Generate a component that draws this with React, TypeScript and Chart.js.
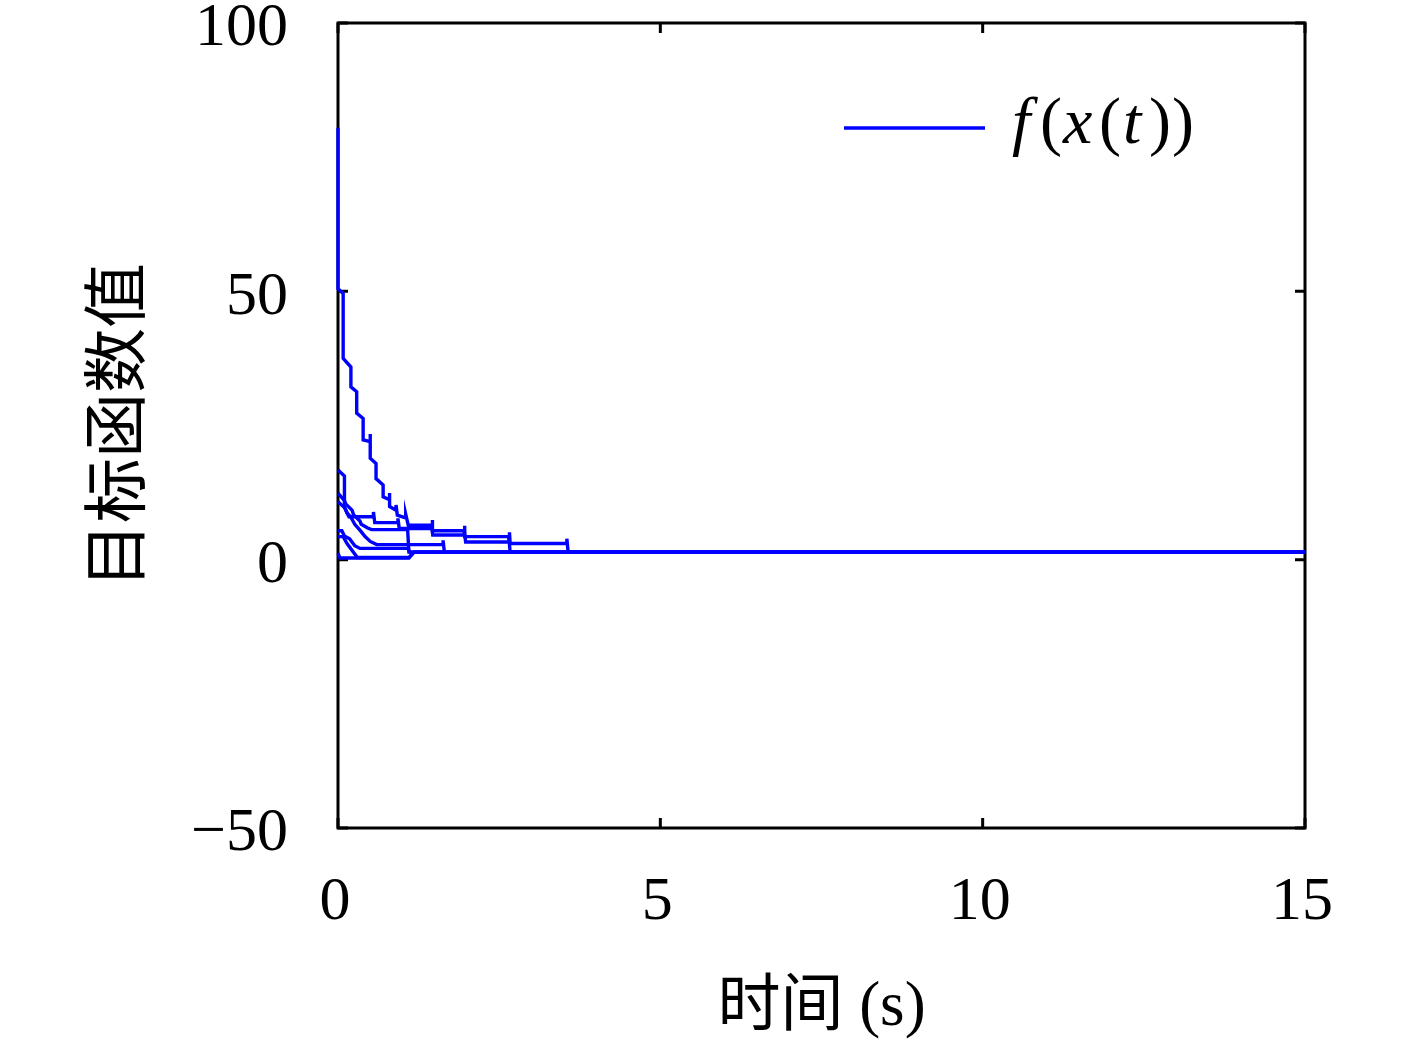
import React, { useEffect, useRef } from "react";
import { Chart, registerables } from "chart.js";

Chart.register(...registerables);

// axis ranges / ticks
const xTickValues = [0, 5, 10, 15];
const yTickValues = [-50, 0, 50, 100];
const xTitle = "时间 (s)";
const yTitle = "目标函数值";
const legendLabel = "f(x(t))";

// runs of the objective value f(x(t)) vs. time (s): [t, f]
const runA: [number, number][] = [
  [0, 80.5], [0, 50.5], [0.08, 49.6], [0.08, 37.5], [0.2, 35.9], [0.2, 32.2],
  [0.29, 31.3], [0.29, 27.3], [0.39, 26.3], [0.39, 22.3], [0.5, 22.0], [0.5, 23.4],
  [0.5, 18.9], [0.59, 17.9], [0.59, 15.1], [0.7, 13.9], [0.7, 11.7], [0.8, 11.2],
  [0.8, 12.4], [0.8, 9.9], [0.9, 9.2], [0.9, 10.2], [0.92, 8.3], [1.05, 7.8],
  [1.05, 8.5], [1.09, 6.4], [1.46, 6.4], [1.46, 7.4], [1.47, 5.4], [1.96, 5.4],
  [1.96, 6.3], [1.97, 4.3], [2.66, 4.3], [2.66, 5.1], [2.67, 3.0], [3.55, 3.0],
  [3.55, 3.9], [3.57, 1.4], [15, 1.4],
];
const runB: [number, number][] = [
  [0, 10.8], [0.1, 9.7], [0.17, 8.0], [0.55, 8.0], [0.55, 8.9], [0.57, 6.9],
  [0.93, 6.9], [0.93, 7.7], [0.95, 5.8], [1.45, 5.8], [1.45, 6.6], [1.47, 4.6],
  [1.96, 4.6], [1.96, 5.4], [1.98, 3.3], [2.65, 3.3], [2.65, 4.1], [2.67, 1.4], [15, 1.4],
];
const runC: [number, number][] = [
  [0, 12.4], [0.1, 11.0], [0.12, 10.4], [0.22, 9.2], [0.24, 8.4], [0.34, 7.2],
  [0.36, 6.6], [0.46, 5.9], [0.52, 5.6], [1.08, 5.6], [1.1, 1.4], [15, 1.4],
];
const runD: [number, number][] = [
  [0, 16.7], [0.1, 15.6], [0.1, 9.9], [0.14, 8.7], [0.2, 7.9], [0.26, 6.6],
  [0.34, 5.5], [0.42, 4.3], [0.5, 3.4], [0.6, 2.8], [1.63, 2.8], [1.63, 3.6],
  [1.65, 1.4], [15, 1.4],
];
const runE: [number, number][] = [
  [0, 5.4], [0.06, 5.4], [0.1, 4.4], [0.18, 3.9], [0.26, 2.6], [0.34, 2.1],
  [1.08, 2.1], [1.12, 1.4], [15, 1.4],
];
const runF: [number, number][] = [
  [0, 4.3], [0.08, 4.3], [0.14, 3.0], [0.3, 0.4], [1.1, 0.4], [1.18, 1.4], [15, 1.4],
];
const runG: [number, number][] = [
  [0, 1.2], [0.03, 0.3], [1.1, 0.3], [1.18, 1.4], [15, 1.4],
];
const runs = [runA, runB, runC, runD, runE, runF, runG];

const FONT = "'Liberation Serif', 'Noto Sans CJK SC', serif";
const BLUE = "#0000ff";

const framePlugin = {
  id: "frame",
  beforeDatasetsDraw(chart: any) {
    const { ctx, chartArea } = chart;
    const { left, right, top, bottom } = chartArea;
    const xs = chart.scales.x;
    const ys = chart.scales.y;
    ctx.save();
    ctx.strokeStyle = "#000";
    ctx.lineWidth = 3;
    ctx.strokeRect(left, top, right - left, bottom - top);
    const L = 10;
    ctx.beginPath();
    for (const v of xTickValues) {
      const px = xs.getPixelForValue(v);
      ctx.moveTo(px, bottom);
      ctx.lineTo(px, bottom - L);
      ctx.moveTo(px, top);
      ctx.lineTo(px, top + L);
    }
    for (const v of yTickValues) {
      const py = ys.getPixelForValue(v);
      ctx.moveTo(left, py);
      ctx.lineTo(left + L, py);
      ctx.moveTo(right, py);
      ctx.lineTo(right - L, py);
    }
    ctx.stroke();
    ctx.restore();
  },
  afterDraw(chart: any) {
    const { ctx } = chart;
    ctx.save();
    ctx.strokeStyle = BLUE;
    ctx.lineWidth = 3.5;
    ctx.beginPath();
    ctx.moveTo(844, 128);
    ctx.lineTo(985, 128);
    ctx.stroke();
    ctx.fillStyle = "#000";
    ctx.textAlign = "left";
    ctx.textBaseline = "alphabetic";
    const base = 143;
    const glyphs: [string, number, boolean][] = [
      ["f", 1012, true],
      ["(", 1040, false],
      ["x", 1063, true],
      ["(", 1099, false],
      ["t", 1123, true],
      [")", 1149, false],
      [")", 1172, false],
    ];
    for (const [g, x, it] of glyphs) {
      ctx.font = (it ? "italic " : "") + "66px " + FONT;
      ctx.fillText(g, x, base);
    }
    ctx.restore();
  },
};

export default function App() {
  const ref = useRef<HTMLCanvasElement | null>(null);
  useEffect(() => {
    if (!ref.current) return;
    const chart = new Chart(ref.current, {
      type: "line",
      data: {
        datasets: runs.map((r, i) => ({
          label: i === 0 ? legendLabel : "",
          data: r.map(([x, y]) => ({ x, y })),
          borderColor: BLUE,
          borderWidth: 3.4,
          pointRadius: 0,
          fill: false,
          tension: 0,
          clip: 4,
        })),
      },
      plugins: [framePlugin],
      options: {
        responsive: false,
        animation: false,
        events: [],
        layout: { padding: { top: 23, right: 112, left: 0, bottom: 0 } },
        plugins: { legend: { display: false }, tooltip: { enabled: false } },
        scales: {
          x: {
            type: "linear",
            min: 0,
            max: 15,
            afterBuildTicks: (s: any) => {
              s.ticks = xTickValues.map((v) => ({ value: v }));
            },
            afterFit: (s: any) => {
              s.height = 223;
              s.paddingLeft = 0;
              s.paddingRight = 0;
            },
            grid: { display: false, drawTicks: false },
            border: { display: false },
            ticks: {
              color: "#000",
              padding: 38,
              maxRotation: 0,
              labelOffset: -3,
              font: { family: FONT, size: 62 },
            },
            title: {
              display: true,
              text: xTitle,
              color: "#000",
              font: { family: FONT, size: 63 },
              padding: { top: 0, bottom: 5 },
            },
          },
          y: {
            type: "linear",
            min: -50,
            max: 100,
            afterBuildTicks: (s: any) => {
              s.ticks = yTickValues.map((v) => ({ value: v }));
            },
            afterFit: (s: any) => {
              s.width = 338;
              s.paddingTop = 0;
              s.paddingBottom = 0;
            },
            grid: { display: false, drawTicks: false },
            border: { display: false },
            ticks: {
              color: "#000",
              padding: 50,
              labelOffset: 6,
              font: { family: FONT, size: 62 },
              callback: (v: any) => (v < 0 ? "\u2212" + Math.abs(v) : String(v)),
            },
            title: {
              display: true,
              text: yTitle,
              color: "#000",
              font: { family: FONT, size: 65 },
              padding: { top: 83, bottom: 0 },
            },
          },
        },
      },
    });
    return () => chart.destroy();
  }, []);
  return (
    <div style={{ position: "fixed", left: 0, top: 0, width: 1417, height: 1051, background: "#fff" }}>
      <canvas ref={ref} width={1417} height={1051} />
    </div>
  );
}
